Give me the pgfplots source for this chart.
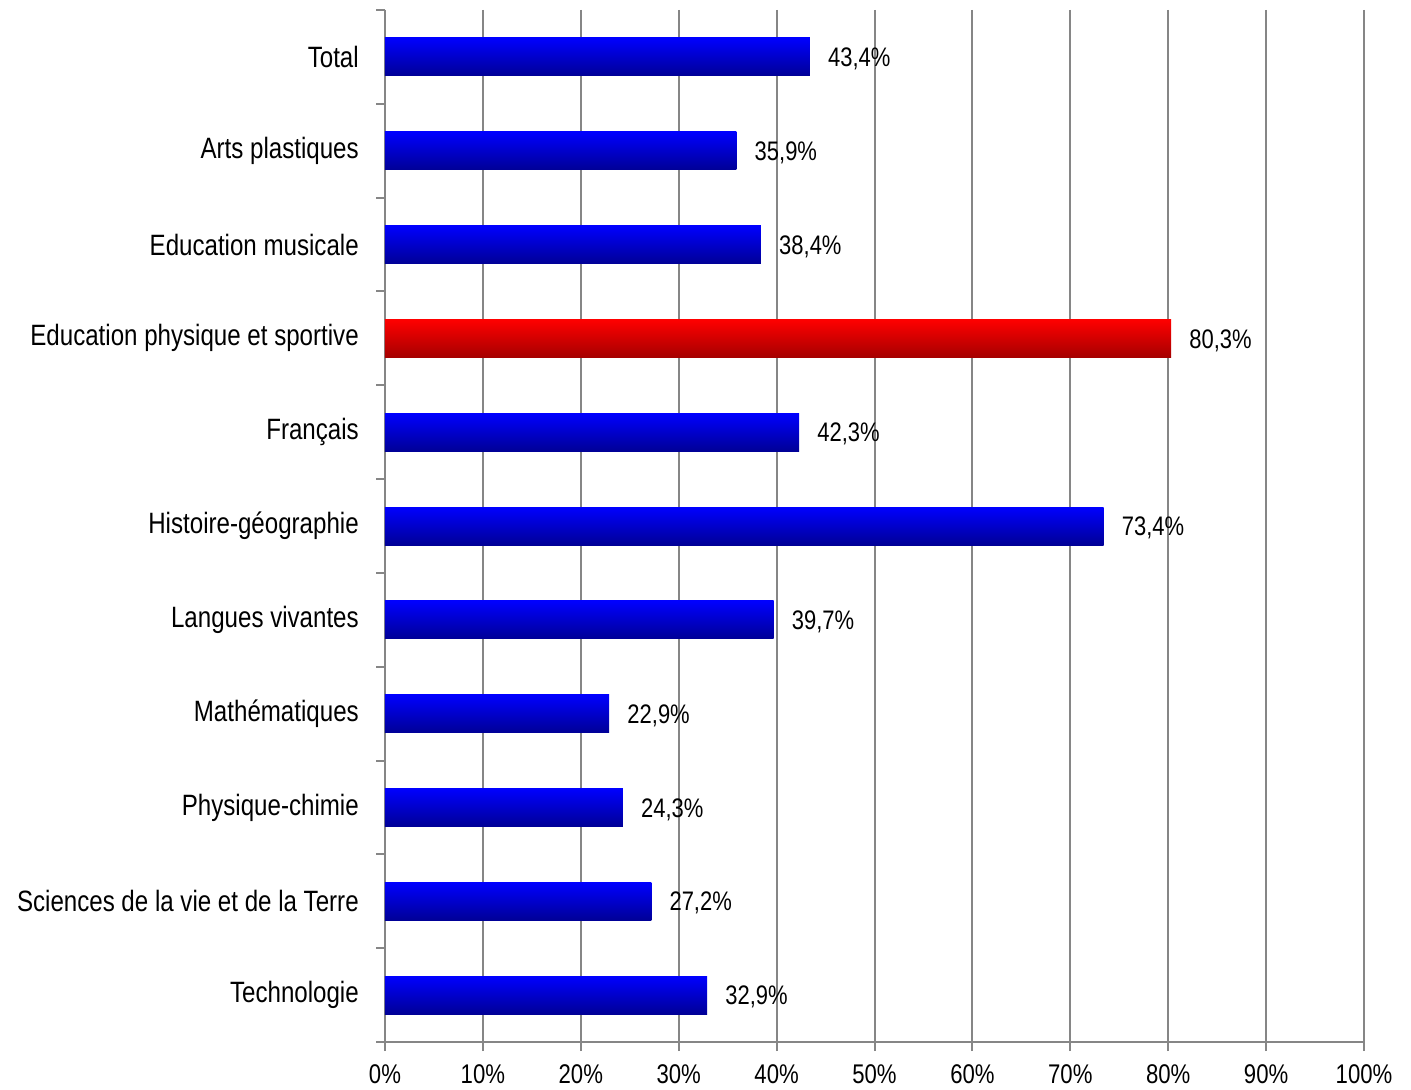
\documentclass[border=0pt]{standalone}
\usepackage{pgfplots}
\pgfplotsset{compat=1.18}
\usepackage{fontspec}
\setmainfont[FakeStretch=0.82]{Liberation Sans}
\definecolor{axgray}{RGB}{134,134,134}
\pgfplotsset{
  bluebar/.style={draw=none, top color={rgb,255:red,0;green,0;blue,255}, bottom color={rgb,255:red,0;green,0;blue,150}},
  redbar/.style={draw=none, top color={rgb,255:red,255;green,0;blue,0}, bottom color={rgb,255:red,165;green,0;blue,0}},
}
\begin{document}
\begin{tikzpicture}
\begin{axis}[
  scale only axis,
  width=489.5pt, height=516pt,
  xbar, bar width=19pt, bar shift=0pt,
  xmin=0, xmax=100,
  ymin=-0.5, ymax=10.5,
  y dir=reverse,
  axis x line*=bottom, axis y line*=left,
  axis line style={axgray, line width=1pt},
  xtick={0,10,...,100},
  xticklabel={\pgfmathprintnumber{\tick}\%},
  xticklabel style={yshift=-3.5pt, font=\fontsize{13.5}{15}\selectfont},
  xmajorgrids,
  major grid style={axgray, line width=1pt},
  tick style={axgray, line width=1pt},
  major tick length=4.5pt,
  tick align=outside,
  ytick={-0.5,0.5,...,10.5},
  yticklabels={},
  extra y ticks={0,...,10},
  extra y tick labels={Total,Arts plastiques,Education musicale,Education physique et sportive,Français,Histoire-géographie,Langues vivantes,Mathématiques,Physique-chimie,Sciences de la vie et de la Terre,Technologie},
  extra y tick style={tick style={draw=none}, yticklabel style={xshift=-5.1pt, font=\fontsize{14.7}{16}\selectfont}},
  ticklabel style={text=black},
  /pgf/number format/assume math mode=true,
  point meta=x,
  nodes near coords={\pgfmathprintnumber[fixed,fixed zerofill,precision=1,use comma]{\pgfplotspointmeta}\%},
  every node near coord/.append style={font=\fontsize{13.4}{15}\selectfont, text=black, xshift=5.6pt, yshift=-1pt},
  clip=false,
]
\addplot[bluebar] coordinates {(43.4,0)};
\addplot[bluebar] coordinates {(35.9,1)};
\addplot[bluebar] coordinates {(38.4,2)};
\addplot[redbar] coordinates {(80.3,3)};
\addplot[bluebar] coordinates {(42.3,4)};
\addplot[bluebar] coordinates {(73.4,5)};
\addplot[bluebar] coordinates {(39.7,6)};
\addplot[bluebar] coordinates {(22.9,7)};
\addplot[bluebar] coordinates {(24.3,8)};
\addplot[bluebar] coordinates {(27.2,9)};
\addplot[bluebar] coordinates {(32.9,10)};
\end{axis}
\pgfresetboundingbox
\path (-192.5pt,-24pt) rectangle (513pt,521pt);
\end{tikzpicture}
\end{document}
